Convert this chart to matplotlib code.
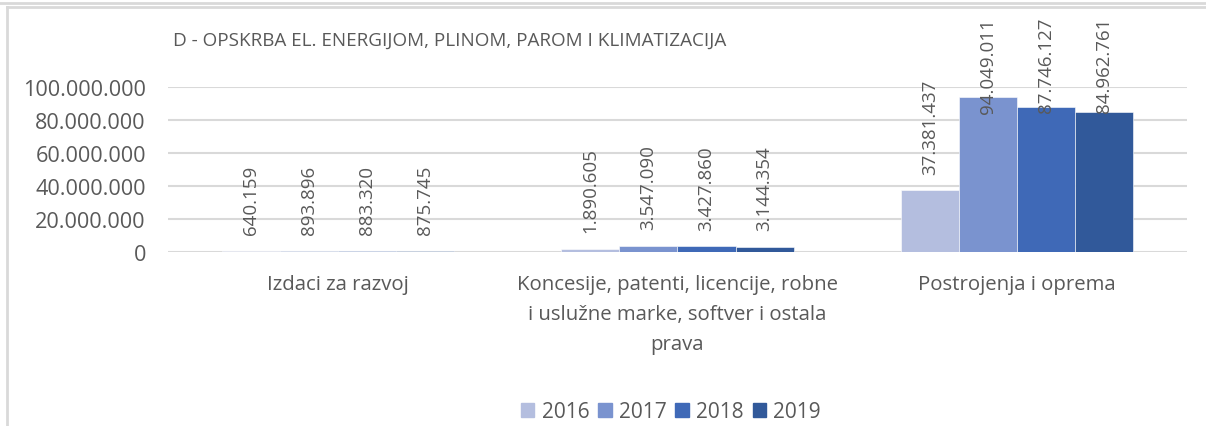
import matplotlib
matplotlib.use("Agg")
import matplotlib.pyplot as plt
from matplotlib.lines import Line2D
import numpy as np

categories = ["Izdaci za razvoj",
              "Koncesije, patenti, licencije, robne\ni uslužne marke, softver i ostala\nprava",
              "Postrojenja i oprema"]
years = ["2016", "2017", "2018", "2019"]
values = {
    "2016": [640159, 1890605, 37381437],
    "2017": [893896, 3547090, 94049011],
    "2018": [883320, 3427860, 87746127],
    "2019": [875745, 3144354, 84962761],
}
colors = ["#B4BEDF", "#7A93CF", "#3F69B7", "#31599A"]
title = "D - OPSKRBA EL. ENERGIJOM, PLINOM, PAROM I KLIMATIZACIJA"
yticks = [0, 20000000, 40000000, 60000000, 80000000, 100000000]

def fmt(v):
    return f"{v:,.0f}".replace(",", ".")

plt.rcParams['font.family'] = ['Open Sans', 'DejaVu Sans']
txt = "#595959"
grid = "#D9D9D9"

W, H = 1206, 427
fig = plt.figure(figsize=(W / 100, H / 100), dpi=100)
ax = fig.add_axes([168 / W, (H - 253) / H, 1019 / W, 165 / H])

x = np.arange(len(categories))
bw = 0.171
bars_all = []
for i, y in enumerate(years):
    offs = (i - 1.5) * bw
    b = ax.bar(x + offs, values[y], bw, color=colors[i], label=y,
               edgecolor="white", linewidth=0.4, zorder=3)
    bars_all.append(b)

ax.set_xlim(-0.5, 2.5)
ax.set_ylim(0, 100000000)
ax.set_yticks(yticks)
ax.set_yticklabels([fmt(v) for v in yticks], fontsize=15.6, color=txt)
ax.set_xticks(x)
ax.set_xticklabels(categories, fontsize=14.7, color=txt, linespacing=1.67)
ax.tick_params(axis='y', length=0, pad=16)
ax.tick_params(axis='x', length=0, pad=16)
ax.yaxis.grid(True, color=grid, linewidth=1.5, zorder=0)
ax.set_axisbelow(True)
for s in ax.spines.values():
    s.set_visible(False)

fig.text(173 / W, (H - 41) / H, title, fontsize=13.6, color=txt, va='center', ha='left')

# data labels
labels = []
for i, y in enumerate(years):
    for rect, v in zip(bars_all[i], values[y]):
        t = ax.annotate(fmt(v), (rect.get_x() + rect.get_width() / 2, rect.get_height()),
                        xytext=(0, 12), textcoords="offset points", rotation=90,
                        ha='center', va='bottom', fontsize=13.5, color=txt, zorder=5)
        labels.append(t)

fig.canvas.draw()
r = fig.canvas.get_renderer()
top_lim = H - 18
for t in labels:
    bb = t.get_window_extent(r)
    if bb.y1 > top_lim:
        shift = (bb.y1 - top_lim) * 72 / 100
        ox, oy = t.xyann
        t.xyann = (ox, oy - shift)

leg = fig.legend(handles=[plt.Rectangle((0, 0), 1, 1, color=c) for c in colors],
                 labels=years, loc='center', bbox_to_anchor=(671 / W, (H - 413) / H),
                 ncol=4, frameon=False, fontsize=15, handlelength=0.65, handleheight=0.65,
                 handletextpad=0.35, columnspacing=0.42, labelcolor=txt)

# frame lines
fig.add_artist(Line2D([0, 1], [(H - 3.5) / H] * 2, color=grid, linewidth=2))
fig.add_artist(Line2D([7 / W, 1], [(H - 8) / H] * 2, color=grid, linewidth=2))
fig.add_artist(Line2D([7 / W, 7 / W], [0, (H - 8) / H], color=grid, linewidth=2))

fig.savefig("out.png", dpi=100)
